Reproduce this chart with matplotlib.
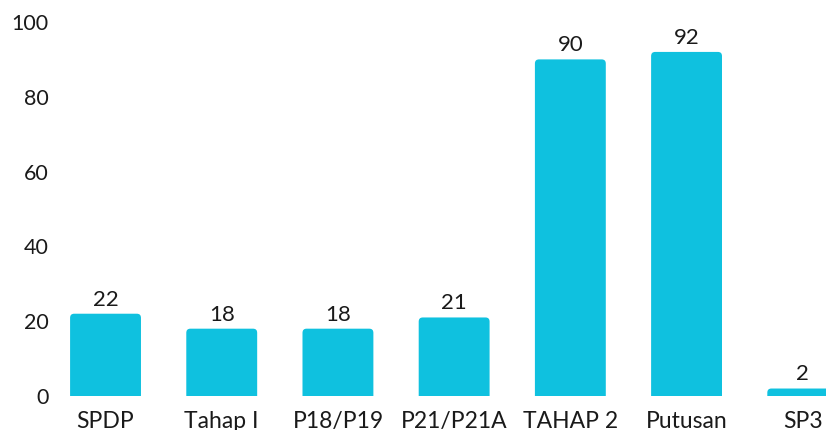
import matplotlib.pyplot as plt
from matplotlib.patches import FancyBboxPatch

categories = ['SPDP', 'Tahap I', 'P18/P19', 'P21/P21A', 'TAHAP 2', 'Putusan', 'SP3']
values = [22, 18, 18, 21, 90, 92, 2]
yticks = [0, 20, 40, 60, 80, 100]

bar_color = '#0fc1df'
text_color = '#1a1a1a'

plt.rcParams['font.family'] = ['Lato', 'DejaVu Sans']

fig = plt.figure(figsize=(8.26, 4.30), dpi=100)
ax = fig.add_axes([58 / 826, 34 / 430, 1 - 58 / 826, 374 / 430])

x = list(range(len(categories)))
bars = ax.bar(x, values, width=0.61, color=bar_color)

# swap the plain bars for ones with rounded top corners
# (they go a little below 0 so the bottom rounding is clipped away)
for b in bars:
    x0, w, h = b.get_x(), b.get_width(), b.get_height()
    b.set_visible(False)
    r = FancyBboxPatch((x0, -3), w, h + 3,
                       boxstyle='round,pad=0,rounding_size=0.035',
                       mutation_aspect=31.4,
                       facecolor=bar_color, edgecolor='none')
    ax.add_patch(r)

for xi, v in zip(x, values):
    ax.annotate(str(v), (xi, v), xytext=(0, 3), textcoords='offset points',
                ha='center', va='bottom', fontsize=16, color=text_color)

ax.set_xlim(-0.409, 6.2)
ax.set_ylim(0, 100)
ax.set_yticks(yticks)
ax.set_xticks(x)
ax.set_xticklabels(categories)
ax.tick_params(axis='y', length=0, labelsize=15.5, labelcolor=text_color, pad=7)
ax.tick_params(axis='x', length=0, labelsize=16.5, labelcolor=text_color, pad=10.5)
for s in ax.spines.values():
    s.set_visible(False)

fig.savefig('out.png', dpi=100)
